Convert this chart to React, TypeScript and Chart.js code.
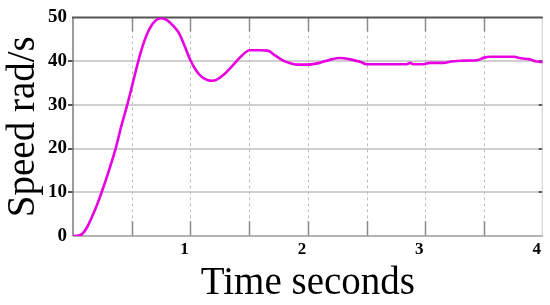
import React, { useEffect, useRef } from "react";
import { Chart, registerables } from "chart.js";

Chart.register(...registerables);

// Time (s) and speed (rad/s)
const times = [
  0, 0.05, 0.08, 0.12, 0.16, 0.2, 0.244, 0.3, 0.363, 0.41, 0.462, 0.5, 0.556, 0.6,
  0.65, 0.7, 0.75, 0.8, 0.85, 0.9, 0.95, 1.0, 1.05, 1.1, 1.15, 1.18, 1.22, 1.28,
  1.34, 1.4, 1.46, 1.5, 1.6, 1.66, 1.72, 1.79, 1.85, 1.9, 2.0, 2.1, 2.2, 2.27, 2.36,
  2.45, 2.5, 2.6, 2.84, 2.87, 2.9, 2.98, 3.04, 3.15, 3.22, 3.3, 3.44, 3.5, 3.55,
  3.76, 3.8, 3.89, 3.95, 4.0,
];
const speeds = [
  0, 0.1, 0.5, 2, 4.3, 6.8, 10, 14.5, 20, 25, 30, 34, 40, 44,
  47.3, 49.2, 49.8, 49.4, 48.2, 46.5, 43.5, 40.2, 37.8, 36.3, 35.6, 35.5, 35.7, 36.8,
  38.4, 40.2, 41.8, 42.5, 42.5, 42.4, 41.3, 40.1, 39.5, 39.2, 39.2, 39.6, 40.4, 40.7, 40.4,
  39.8, 39.3, 39.3, 39.3, 39.6, 39.3, 39.3, 39.6, 39.6, 39.9, 40.1, 40.2, 40.8, 41.0,
  41.0, 40.7, 40.4, 39.9, 39.8,
];

const yTickValues = [0, 10, 20, 30, 40, 50];
const xGridValues = [0.5, 1, 1.5, 2, 2.5, 3, 3.5];
const xLabelValues = [1, 2, 3, 4];
const xTitle = "Time seconds";
const yTitle = "Speed rad/s";

const framePlugin = {
  id: "framePlugin",
  beforeDatasetsDraw(chart: any) {
    const { ctx, chartArea, scales } = chart;
    const { left, right, top, bottom } = chartArea;
    const x = scales.x;
    const y = scales.y;
    ctx.save();
    // horizontal grid lines
    ctx.strokeStyle = "#cfcfcf";
    ctx.lineWidth = 2;
    for (const v of yTickValues) {
      if (v === 0 || v === 50) continue;
      const py = Math.round(y.getPixelForValue(v));
      ctx.beginPath();
      ctx.moveTo(left, py);
      ctx.lineTo(right, py);
      ctx.stroke();
    }
    // vertical dashed grid lines
    ctx.strokeStyle = "#bdbdbd";
    ctx.lineWidth = 1;
    ctx.setLineDash([3, 3]);
    for (const v of xGridValues) {
      const px = Math.round(x.getPixelForValue(v)) + 0.5;
      ctx.beginPath();
      ctx.moveTo(px, top);
      ctx.lineTo(px, bottom);
      ctx.stroke();
    }
    ctx.setLineDash([]);
    // inside ticks top and bottom
    ctx.strokeStyle = "#8a8a8a";
    ctx.lineWidth = 1.5;
    for (const v of xGridValues) {
      const px = Math.round(x.getPixelForValue(v)) + 0.5;
      ctx.beginPath();
      ctx.moveTo(px, top);
      ctx.lineTo(px, top + 14);
      ctx.moveTo(px, bottom);
      ctx.lineTo(px, bottom - 15);
      ctx.stroke();
    }
    // y ticks: outside left, inside right
    ctx.strokeStyle = "#555";
    ctx.lineWidth = 2;
    for (const v of yTickValues) {
      if (v === 0 || v === 50) continue;
      const py = Math.round(y.getPixelForValue(v));
      ctx.beginPath();
      ctx.moveTo(left - 5, py);
      ctx.lineTo(left, py);
      ctx.moveTo(right - 4, py);
      ctx.lineTo(right, py);
      ctx.stroke();
    }
    // frame
    ctx.strokeStyle = "#cccccc";
    ctx.lineWidth = 1;
    ctx.beginPath();
    ctx.moveTo(right - 0.5, top);
    ctx.lineTo(right - 0.5, bottom);
    ctx.stroke();
    ctx.strokeStyle = "#9a9a9a";
    ctx.lineWidth = 1.5;
    ctx.beginPath();
    ctx.moveTo(left, bottom);
    ctx.lineTo(right, bottom);
    ctx.stroke();
    ctx.strokeStyle = "#7a7a7a";
    ctx.lineWidth = 1.5;
    ctx.beginPath();
    ctx.moveTo(left, top);
    ctx.lineTo(left, bottom);
    ctx.stroke();
    ctx.strokeStyle = "#555555";
    ctx.lineWidth = 2;
    ctx.beginPath();
    ctx.moveTo(left - 1, top);
    ctx.lineTo(right, top);
    ctx.stroke();
    ctx.restore();
  },
};

export default function App() {
  const ref = useRef<HTMLCanvasElement | null>(null);
  useEffect(() => {
    if (!ref.current) return;
    const chart = new Chart(ref.current, {
      type: "line",
      data: {
        datasets: [
          {
            data: times.map((t, i) => ({ x: t, y: speeds[i] })),
            borderColor: "rgb(232,0,226)",
            borderWidth: 2.6,
            pointRadius: 0,
            cubicInterpolationMode: "monotone",
            fill: false,
          },
        ],
      },
      options: {
        animation: false,
        responsive: false,
        devicePixelRatio: 1,
        layout: { padding: { top: 13, right: 7, left: 0, bottom: 0 } },
        plugins: { legend: { display: false }, tooltip: { enabled: false } },
        scales: {
          x: {
            type: "linear",
            min: 0,
            max: 4,
            grid: { display: false, drawTicks: false },
            border: { display: false },
            afterFit: (s: any) => {
              s.height = 69;
            },
            afterBuildTicks: (s: any) => {
              s.ticks = [0, ...xGridValues, 4].map((v) => ({ value: v }));
            },
            ticks: {
              autoSkip: false,
              maxRotation: 0,
              padding: 3,
              labelOffset: -6,
              color: "#000",
              font: { family: "'Liberation Serif', serif", size: 17, weight: "bold" },
              callback: (v: any) => (xLabelValues.includes(Number(v)) ? String(v) : ""),
            },
            title: {
              display: true,
              text: xTitle,
              color: "#000",
              padding: { top: 0, bottom: -2 },
              font: { family: "'Liberation Serif', serif", size: 39, weight: "normal" },
            },
          },
          y: {
            type: "linear",
            min: 0,
            max: 50,
            grid: { display: false, drawTicks: false },
            border: { display: false },
            afterFit: (s: any) => {
              s.width = 73;
            },
            afterBuildTicks: (s: any) => {
              s.ticks = yTickValues.map((v) => ({ value: v }));
            },
            ticks: {
              autoSkip: false,
              padding: 6,
              color: "#000",
              font: { family: "'Liberation Serif', serif", size: 19, weight: "bold" },
              callback: (v: any) => String(v),
            },
            title: {
              display: true,
              text: yTitle,
              color: "#000",
              padding: { top: 0, bottom: 0 },
              font: { family: "'Liberation Serif', serif", size: 39, weight: "normal" },
            },
          },
        },
      },
      plugins: [framePlugin],
    });
    return () => chart.destroy();
  }, []);
  return (
    <div style={{ position: "fixed", left: 0, top: 0, width: 550, height: 305, background: "#fff" }}>
      <canvas ref={ref} width={550} height={305} style={{ width: 550, height: 305 }} />
    </div>
  );
}
